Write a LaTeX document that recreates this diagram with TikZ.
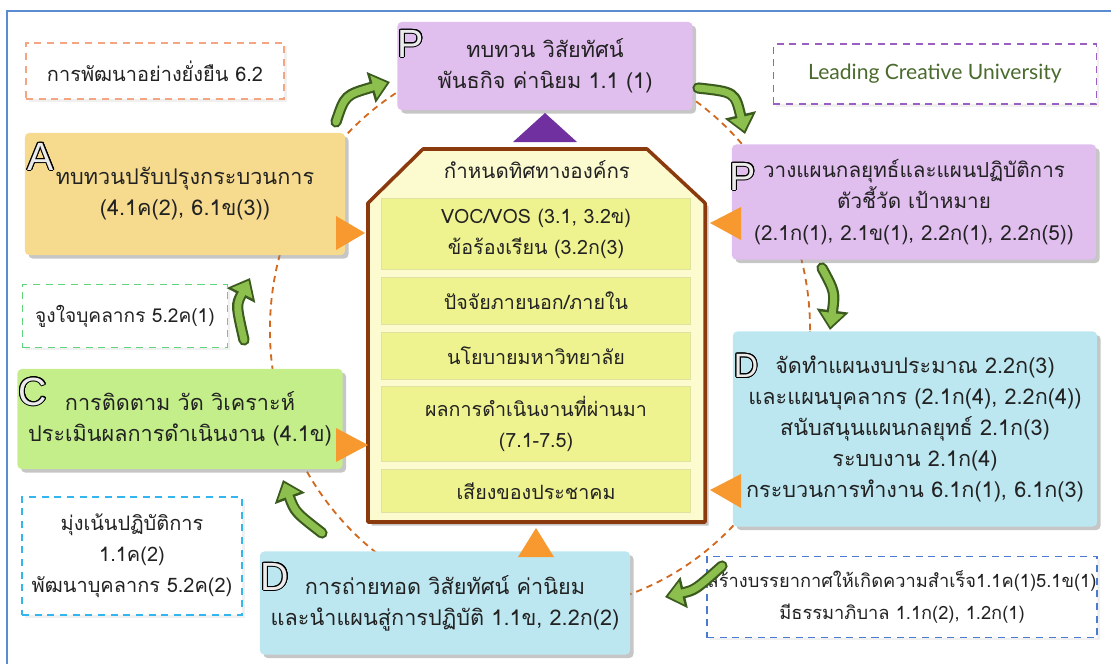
\documentclass[tikz,border=0pt]{standalone}
\usepackage{fontspec}
\setmainfont[Script=Thai]{Loma}
\newfontfamily\latinfont{Lato}
\newfontfamily\letterfont{Liberation Sans}
\usepackage{contour}
\contourlength{0.7pt}
\usetikzlibrary{shadows,arrows.meta}
\definecolor{frameblue}{HTML}{5B8BD0}
\definecolor{cyclebrown}{HTML}{D2691E}
\definecolor{textgray}{HTML}{222222}
\definecolor{boxpurple}{HTML}{E0BEEE}
\definecolor{boxgold}{HTML}{F6DB8F}
\definecolor{boxgreen}{HTML}{C4EE8A}
\definecolor{boxblue}{HTML}{BDE7F0}
\definecolor{hexfill}{HTML}{FCFBD0}
\definecolor{hexline}{HTML}{8B3A0E}
\definecolor{innerfill}{HTML}{EEF28F}
\definecolor{innerline}{HTML}{E0E3A0}
\definecolor{pointorange}{HTML}{F7992F}
\definecolor{pointpurple}{HTML}{7030A0}
\definecolor{arrowgreen}{HTML}{8CBF4E}
\definecolor{arrowdark}{HTML}{3B5A1E}
\definecolor{noteorange}{HTML}{F4A582}
\definecolor{notepurple}{HTML}{9A5FC0}
\definecolor{notegreen}{HTML}{5FD47A}
\definecolor{notecyan}{HTML}{33B5EE}
\definecolor{noteblue}{HTML}{4A7BD0}
\definecolor{mottogreen}{HTML}{4B6B2E}
\begin{document}
\begin{tikzpicture}[x=0.025cm, y=-0.025cm,
  txt/.style={font=\fontsize{15.4}{22}\selectfont, text=textgray, align=center, inner sep=0pt},
  box/.style={txt, rounded corners=3pt, drop shadow={shadow xshift=2.5pt, shadow yshift=-2.5pt, opacity=0.45}},
  note/.style={txt, font=\fontsize{14.2}{22}\selectfont, fill=white, line width=1.2pt, dash pattern=on 5pt off 4pt,
    drop shadow={shadow xshift=2pt, shadow yshift=-2pt, opacity=0.12}},
  inner/.style={txt, font=\fontsize{14}{22}\selectfont, fill=innerfill, draw=innerline, line width=0.8pt, minimum width=7.725cm},
  pdca/.style={font=\letterfont\fontsize{28}{28}\selectfont, inner sep=0pt},
  pointer/.style={fill=pointorange},
  growout/.style={draw=arrowdark, line width=8pt, line cap=round, -{Triangle[width=22pt,length=14pt]}},
  growin/.style={draw=arrowgreen, line width=5pt, line cap=round, shorten >=2.2pt, -{Triangle[width=16pt,length=10pt]}},
  ]
\useasboundingbox (0,0) rectangle (1111,664);
\draw[frameblue, line width=1.5pt] (7,664) -- (7,11) -- (1111,11);
\draw[cyclebrown, line width=1.3pt, dash pattern=on 4.5pt off 3.5pt] (540,330) ellipse [x radius=6.75cm, y radius=7cm];

\node[note, draw=noteorange, minimum width=6.45cm, minimum height=1.4cm] (goal) at (155,71) {การพัฒนาอย่างยั่งยืน 6.2};
\node[note, draw=notepurple, minimum width=8.075cm, minimum height=1.5cm, font=\latinfont\fontsize{15}{20}\selectfont, text=mottogreen] (motto) at (935,74) {Leading Creative University};
\node[note, draw=notegreen, minimum width=5.125cm, minimum height=1.575cm, font=\fontsize{13.6}{22}\selectfont] (motivate) at (125,316) {จูงใจบุคลากร 5.2ค(1)};
\node[note, draw=notecyan, minimum width=5.5cm, minimum height=2.95cm] (focus) at (132,556) {มุ่งเน้นปฏิบัติการ\\1.1ค(2)\\พัฒนาบุคลากร 5.2ค(2)};
\node[note, draw=noteblue, minimum width=9.75cm, minimum height=2.025cm, font=\fontsize{13}{23}\selectfont] (climate) at (902,597) {สร้างบรรยากาศให้เกิดความสำเร็จ1.1ค(1)5.1ข(1)\\มีธรรมาภิบาล 1.1ก(2), 1.2ก(1)};

\node[box, fill=boxpurple, minimum width=7.375cm, minimum height=2.2cm] (review) at (545,66) {ทบทวน วิสัยทัศน์\\พันธกิจ ค่านิยม 1.1 (1)};
\node[box, fill=boxpurple, minimum width=9.1cm, minimum height=2.875cm, font=\fontsize{14.7}{22.5}\selectfont] (strategy) at (914,202) {วางแผนกลยุทธ์และแผนปฏิบัติการ\\ตัวชี้วัด เป้าหมาย\\(2.1ก(1), 2.1ข(1), 2.2ก(1), 2.2ก(5))};
\node[box, fill=boxgold, minimum width=8cm, minimum height=3.05cm] (improve) at (185,194) {ทบทวนปรับปรุงกระบวนการ\\(4.1ค(2), 6.1ข(3))};
\node[box, fill=boxgreen, minimum width=8.125cm, minimum height=2.5cm] (monitor) at (180,419) {การติดตาม วัด วิเคราะห์\\ประเมินผลการดำเนินงาน (4.1ข)};
\node[box, fill=boxblue, minimum width=9.25cm, minimum height=2.575cm] (deploy) at (445,603) {การถ่ายทอด วิสัยทัศน์ ค่านิยม\\และนำแผนสู่การปฏิบัติ 1.1ข, 2.2ก(2)};
\node[box, fill=boxblue, minimum width=9.1cm, minimum height=4.875cm] (budget) at (915,429) {จัดทำแผนงบประมาณ 2.2ก(3)\\และแผนบุคลากร (2.1ก(4), 2.2ก(4))\\สนับสนุนแผนกลยุทธ์ 2.1ก(3)\\ระบบงาน 2.1ก(4)\\กระบวนการทำงาน 6.1ก(1), 6.1ก(3)};

\node[pdca] (pr) at (411,44) {\contour{black}{\textcolor{black!8}{P}}};
\node[pdca] (ps) at (743,177) {\contour{black}{\textcolor{black!8}{P}}};
\node[pdca] (ai) at (41,157) {\contour{black}{\textcolor{black!8}{A}}};
\node[pdca] (cm) at (33,392) {\contour{black}{\textcolor{black!8}{C}}};
\node[pdca] (dd) at (275,577) {\contour{black}{\textcolor{black!8}{D}}};
\node[pdca, font=\letterfont\fontsize{24}{24}\selectfont] (db) at (746,366) {\contour{black}{\textcolor{black!8}{D}}};

\draw[hexline, fill=hexfill, line width=2.5pt, line join=round, drop shadow={shadow xshift=2.5pt, shadow yshift=-2.5pt, opacity=0.45}]
  (423,149) -- (647,149) -- (705,203) -- (705,522) -- (368,522) -- (368,203) -- cycle;
\node[txt, font=\fontsize{14.6}{22}\selectfont] (direction) at (537,170) {กำหนดทิศทางองค์กร};
\node[inner, minimum height=1.775cm] (voc) at (536,234) {VOC/VOS (3.1, 3.2ข)\\ข้อร้องเรียน (3.2ก(3)};
\node[inner, minimum height=1.175cm] (factor) at (536,301) {ปัจจัยภายนอก/ภายใน};
\node[inner, minimum height=1.175cm] (policy) at (536,356) {นโยบายมหาวิทยาลัย};
\node[inner, minimum height=1.875cm] (result) at (536,424) {ผลการดำเนินงานที่ผ่านมา\\(7.1-7.5)};
\node[inner, minimum height=1.075cm] (voice) at (536,491) {เสียงของประชาคม};

\fill[pointpurple] (545,113) -- (577,142) -- (513,142) -- cycle;
\fill[pointer] (365,233) -- (336,250) -- (336,216) -- cycle;
\fill[pointer] (368,445) -- (336,462) -- (336,428) -- cycle;
\fill[pointer] (710,223) -- (741,240) -- (741,207) -- cycle;
\fill[pointer] (710,490) -- (741,508) -- (741,474) -- cycle;
\fill[pointer] (536,528) -- (554,557) -- (518,557) -- cycle;

\coordinate (t1) at (336,122); \coordinate (h1) at (390,82);
\coordinate (t2) at (698,88);  \coordinate (h2) at (745,134);
\coordinate (t3) at (822,268); \coordinate (h3) at (830,330);
\coordinate (t4) at (722,566); \coordinate (h4) at (665,597);
\coordinate (t5) at (322,533); \coordinate (h5) at (283,480);
\coordinate (t6) at (244,340); \coordinate (h6) at (250,278);
\foreach \s in {growout,growin} {
  \draw[\s] (t1) .. controls (345,95) .. (h1);
  \draw[\s] (t2) .. controls (735,92) .. (h2);
  \draw[\s] (t3) .. controls (835,292) .. (h3);
  \draw[\s] (t4) .. controls (695,590) .. (h4);
  \draw[\s] (t5) .. controls (295,512) .. (h5);
  \draw[\s] (t6) .. controls (236,305) .. (h6);
}
\end{tikzpicture}
\end{document}
